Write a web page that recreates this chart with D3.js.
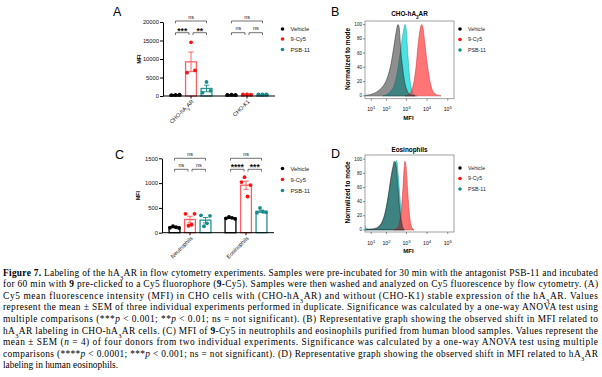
<!DOCTYPE html>
<html><head><meta charset="utf-8">
<script src="https://cdn.jsdelivr.net/npm/d3@7"></script>
<style>body{margin:0;background:#fff}svg{display:block}</style>
</head><body><svg id="c" width="602" height="377"></svg>
<script>
// ---------- data ----------
const series = ["Vehicle", "9-Cy5", "PSB-11"];

// Panel A (MFI, individual experiments)
const groupsA = ["CHO-hA_{3}AR", "CHO-K1"];
const vehicleA = [[250, 300, 350], [300, 350, 280]];
const cy5A = [[6300, 14500, 6900], [400, 450, 380]];
const psbA = [[900, 3800, 1400], [420, 400, 450]];
const ticksA = [0, 5000, 10000, 15000, 20000];

// Panel C (MFI, donors)
const groupsC = ["Neutrophils", "Eosinophils"];
const vehicleC = [[100, 130, 110, 95], [290, 320, 300, 280]];
const cy5C = [[380, 140, 160, 380], [1020, 1120, 730, 960]];
const psbC = [[350, 130, 190, 340], [400, 500, 420, 410]];
const ticksC = [0, 500, 1000, 1500];

// significance annotations: [group, fromSeries, toSeries, level, label]
const sigA = [[0, 0, 2, 0, "ns"], [0, 0, 1, 1, "***"], [0, 1, 2, 1, "**"],
              [1, 0, 2, 0, "ns"], [1, 0, 1, 1, "ns"], [1, 1, 2, 1, "ns"]];
const sigC = [[0, 0, 2, 0, "ns"], [0, 0, 1, 1, "ns"], [0, 1, 2, 1, "ns"],
              [1, 0, 2, 0, "ns"], [1, 0, 1, 1, "****"], [1, 1, 2, 1, "***"]];

// Histograms: [MFI, % of mode]
const histTicks = [10, 100, 1000, 10000, 100000];
const histYTicks = [0, 20, 40, 60, 80, 100];
const bVehicle = [[0,0.5],[2.5,1],[9.5,2],[20,4],[43,9],[83,18],[119,28],[171,45],[242,70],[305,88],[383,100],[430,97],[539,60],[676,35],[847,17],[1060,8],[1328,3],[1858,1],[2599,0]];
const bPSB = [[64,0],[106,2],[171,7],[272,18],[383,38],[481,58],[603,78],[757,95],[847,100],[948,96],[1187,55],[1485,22],[1858,7],[2323,2],[3248,0]];
const bCy5 = [[847,0],[1187,1],[1485,3],[1858,9],[2323,20],[2905,40],[3634,70],[4539,92],[5487,100],[6341,95],[7923,72],[9899,48],[12366,28],[15450,14],[19310,6],[24120,3],[33690,1],[47060,0]];
const dVehicle = [[0,0],[7.4,1],[20,2],[32,4],[56,11],[83,24],[119,45],[171,75],[216,90],[250,97],[305,92],[383,60],[481,25],[603,6],[757,0]];
const dPSB = [[0,6],[1.2,2],[7.4,1],[20,1],[32,3],[56,10],[83,22],[106,37],[151,62],[216,86],[272,95],[330,98],[387,80],[481,45],[584,15],[676,4],[847,0]];
const dCy5 = [[242,0],[342,2],[430,8],[539,25],[676,60],[757,85],[847,97],[948,90],[1122,60],[1328,28],[1571,10],[1858,3],[2323,0]];

// ---------- style ----------
const SANS = "'Liberation Sans', Arial, sans-serif";
const SERIF = "'Liberation Serif', 'Times New Roman', serif";
const pointColor = ["#000000", "#ff1010", "#168c8c"];
const barColor = ["#000000", "#ff6161", "#2a9090"];
const histFill = {Vehicle: "#333333", "9-Cy5": "#ff3b3b", "PSB-11": "#10d8d8"};
const histOpacity = {Vehicle: 0.55, "9-Cy5": 0.7, "PSB-11": 0.75};
const histStroke = {Vehicle: "#222222", "9-Cy5": "#cc2a2a", "PSB-11": "#0a9a9a"};

const svg = d3.select("#c");

function rich(sel, str, small) {
  str.split(/(_\{[^}]*\}|\^\{[^}]*\})/).forEach(p => {
    if (!p) return;
    if (p.startsWith("_{")) sel.append("tspan").attr("baseline-shift", "sub").attr("font-size", small).text(p.slice(2, -1));
    else if (p.startsWith("^{")) sel.append("tspan").attr("baseline-shift", "super").attr("font-size", small).text(p.slice(2, -1));
    else sel.append("tspan").text(p);
  });
}

function letter(t, x, y) {
  svg.append("text").attr("x", x).attr("y", y).attr("font-family", SANS)
    .attr("font-size", 12.5).text(t);
}

function legend(x, ys, size, r) {
  series.forEach((s, i) => {
    svg.append("circle").attr("cx", x).attr("cy", ys[i]).attr("r", r).attr("fill", pointColor[i]);
    svg.append("text").attr("x", x + 8).attr("y", ys[i]).attr("dy", "0.35em")
      .attr("font-family", SANS).attr("font-size", size).attr("fill", "#222").text(s);
  });
}

// ---------- bar panels ----------
function barPanel(o) {
  const g = svg.append("g");
  const y = d3.scaleLinear().domain([0, o.ymax]).range([o.yBottom, o.yTop]);
  const x0 = d3.scalePoint().domain(o.groups).range([o.xLeft, o.xRight]).padding(0.5);
  const x1 = d3.scaleBand().domain(series).range([-23.25, 23.25]).paddingInner(0.3).paddingOuter(0.15);
  const bw = x1.bandwidth();
  const cx = (gi, si) => x0(o.groups[gi]) + x1(series[si]) + bw / 2;
  const offs = n => d3.range(n).map(i => (i - (n - 1) / 2) * (n > 3 ? 3 : 4));

  o.data.forEach((perGroup, si) => {
    perGroup.forEach((pts, gi) => {
      const m = d3.mean(pts);
      const sem = d3.deviation(pts) / Math.sqrt(pts.length);
      const xc = cx(gi, si);
      g.append("rect").attr("x", xc - bw / 2).attr("width", bw)
        .attr("y", y(m)).attr("height", Math.max(0.01, y(0) - y(m)))
        .attr("fill", "none").attr("stroke", barColor[si]).attr("stroke-width", 1.3);
      g.append("line").attr("x1", xc).attr("x2", xc).attr("y1", y(m - sem)).attr("y2", y(m + sem))
        .attr("stroke", barColor[si]).attr("stroke-width", 1);
      [m + sem, m - sem].forEach(v => g.append("line").attr("x1", xc - 2.6).attr("x2", xc + 2.6)
        .attr("y1", y(v)).attr("y2", y(v)).attr("stroke", barColor[si]).attr("stroke-width", 1));
      const of = offs(pts.length);
      pts.forEach((v, k) => g.append("circle").attr("cx", xc + of[k]).attr("cy", y(v))
        .attr("r", 1.9).attr("fill", pointColor[si]));
    });
  });

  // y axis
  const ya = g.append("g").attr("transform", `translate(${o.xLeft},0)`)
    .call(d3.axisLeft(y).tickValues(o.ticks).tickSize(3).tickSizeOuter(0).tickPadding(1).tickFormat(d3.format("d")));
  ya.selectAll("text").attr("font-family", SANS).attr("font-size", 5.8).attr("fill", "#111");
  ya.selectAll("line,path").attr("stroke", "#000").attr("stroke-width", 1);
  // x axis
  g.append("line").attr("x1", o.xLeft).attr("x2", o.xRight).attr("y1", o.yBottom).attr("y2", o.yBottom)
    .attr("stroke", "#000").attr("stroke-width", 1);
  o.groups.forEach(gr => {
    g.append("line").attr("x1", x0(gr)).attr("x2", x0(gr)).attr("y1", o.yBottom).attr("y2", o.yBottom + 2.5)
      .attr("stroke", "#000").attr("stroke-width", 1);
    const t = g.append("text").attr("transform", `translate(${x0(gr) + 3},${o.yBottom + 6}) rotate(-45)`)
      .attr("text-anchor", "end").attr("font-family", SANS).attr("font-size", 5.6).attr("fill", "#111");
    rich(t, gr, 4);
  });
  g.append("text").attr("transform", `translate(${o.xLeft - 22},${(o.yTop + o.yBottom) / 2 - 0}) rotate(-90)`)
    .attr("text-anchor", "middle").attr("font-family", SANS).attr("font-weight", "bold")
    .attr("font-size", 5.2).text("MFI");

  // significance
  o.sig.forEach(([gi, a, b, lev, lab]) => {
    const yy = o.sigY[lev];
    let xa = cx(gi, a), xb = cx(gi, b);
    if (lev === 1) { if (a === 1) xa += 2; if (b === 1) xb -= 2; }
    g.append("path").attr("d", `M${xa},${yy + 2.3}V${yy}H${xb}V${yy + 2.3}`)
      .attr("fill", "none").attr("stroke", "#333").attr("stroke-width", 0.7);
    const star = lab.includes("*");
    g.append("text").attr("x", (xa + xb) / 2).attr("y", star ? yy + 0.8 : yy - 2.3)
      .attr("text-anchor", "middle").attr("font-family", SANS)
      .attr("font-size", star ? 8.5 : 5.4).attr("font-weight", star ? "bold" : "normal")
      .attr("fill", "#111").text(lab);
  });
}

barPanel({groups: groupsA, data: [vehicleA, cy5A, psbA], ticks: ticksA, ymax: 20000,
  yTop: 22, yBottom: 96, xLeft: 163, xRight: 275, sig: sigA, sigY: [21, 32.7]});
barPanel({groups: groupsC, data: [vehicleC, cy5C, psbC], ticks: ticksC, ymax: 1500,
  yTop: 158.3, yBottom: 232.7, xLeft: 162, xRight: 274, sig: sigC, sigY: [158.3, 169.3]});

// ---------- histogram panels ----------
function histPanel(o) {
  const [l, t, r, b] = o.box;
  const g = svg.append("g");
  const x = d3.scaleSymlog().constant(10).domain([0, 2e5]).range([l, r]);
  const y = d3.scaleLinear().domain(o.yDomain).range([b, t]);
  const id = "clip" + Math.round(t);
  g.append("clipPath").attr("id", id).append("rect").attr("x", l).attr("y", t).attr("width", r - l).attr("height", b - t);
  const area = d3.area().x(d => x(d[0])).y0(y(0)).y1(d => y(d[1])).curve(d3.curveMonotoneX);
  const cg = g.append("g").attr("clip-path", `url(#${id})`);
  o.curves.forEach(([name, data]) => {
    cg.append("path").datum(data).attr("d", area).attr("fill", histFill[name])
      .attr("fill-opacity", histOpacity[name]).attr("stroke", histStroke[name]).attr("stroke-width", 0.5);
  });
  g.append("rect").attr("x", l).attr("y", t).attr("width", r - l).attr("height", b - t)
    .attr("fill", "none").attr("stroke", "#8a8a8a").attr("stroke-width", 0.8);
  histYTicks.forEach(v => {
    g.append("line").attr("x1", l - 2).attr("x2", l).attr("y1", y(v)).attr("y2", y(v)).attr("stroke", "#444").attr("stroke-width", 0.6);
    g.append("text").attr("x", l - 3).attr("y", y(v)).attr("dy", "0.35em").attr("text-anchor", "end")
      .attr("font-family", SANS).attr("font-size", 4.6).attr("fill", "#111").text(v);
  });
  histTicks.forEach(v => {
    g.append("line").attr("x1", x(v)).attr("x2", x(v)).attr("y1", b).attr("y2", b + 2).attr("stroke", "#444").attr("stroke-width", 0.6);
    const tx = g.append("text").attr("x", x(v)).attr("y", b + 12.5).attr("text-anchor", "middle")
      .attr("font-family", SANS).attr("font-size", 5.2).attr("fill", "#111");
    rich(tx, "10^{" + Math.round(Math.log10(v)) + "}", 4.2);
  });
  g.append("text").attr("x", (l + r) / 2 - 1).attr("y", b + 20.8).attr("text-anchor", "middle")
    .attr("font-family", SANS).attr("font-weight", "bold").attr("font-size", 6).text("MFI");
  const tt = g.append("text").attr("x", (l + r) / 2).attr("y", o.titleY).attr("text-anchor", "middle")
    .attr("font-family", SANS).attr("font-weight", "bold").attr("font-size", 6.4);
  rich(tt, o.title, 4.6);
  g.append("text").attr("transform", `translate(350,${(t + b) / 2 - 1}) rotate(-90)`)
    .attr("text-anchor", "middle").attr("font-family", SANS).attr("font-weight", "bold")
    .attr("font-size", 6.5).text("Normalized to mode");
}

histPanel({title: "CHO-hA_{3}AR", box: [365, 21, 454, 98.7], yDomain: [-4, 105], titleY: 16,
  curves: [["PSB-11", bPSB], ["9-Cy5", bCy5], ["Vehicle", bVehicle]]});
histPanel({title: "Eosinophils", box: [365, 155, 454, 232], yDomain: [-3, 106], titleY: 151.5,
  curves: [["PSB-11", dPSB], ["9-Cy5", dCy5], ["Vehicle", dVehicle]]});

// ---------- letters & legends ----------
letter("A", 113, 16); letter("B", 331, 16); letter("C", 115, 158.5); letter("D", 331, 158.3);
legend(282.5, [29, 39, 49.5], 5.8, 1.8);
legend(282.5, [168.5, 179.5, 190.5], 5.8, 1.8);
legend(460, [29, 39.5, 50], 5.3, 1.8);
legend(460, [168, 178.5, 189], 5.3, 1.8);

// ---------- caption ----------
const caption = [
  "<b>Figure 7.</b> Labeling of the hA<sub>3</sub>AR in flow cytometry experiments. Samples were pre-incubated for 30 min with the antagonist PSB-11 and incubated",
  "for 60 min with <b>9</b> pre-clicked to a Cy5 fluorophore (<b>9</b>-Cy5). Samples were then washed and analyzed on Cy5 fluorescence by flow cytometry. (A)",
  "Cy5 mean fluorescence intensity (MFI) in CHO cells with (CHO-hA<sub>3</sub>AR) and without (CHO-K1) stable expression of the hA<sub>3</sub>AR. Values",
  "represent the mean ± SEM of three individual experiments performed in duplicate. Significance was calculated by a one-way ANOVA test using",
  "multiple comparisons (***<i>p</i> &lt; 0.001; **<i>p</i> &lt; 0.01; ns = not significant). (B) Representative graph showing the observed shift in MFI related to",
  "hA<sub>3</sub>AR labeling in CHO-hA<sub>3</sub>AR cells. (C) MFI of <b>9</b>-Cy5 in neutrophils and eosinophils purified from human blood samples. Values represent the",
  "mean ± SEM (<i>n</i> = 4) of four donors from two individual experiments. Significance was calculated by a one-way ANOVA test using multiple",
  "comparisons (****<i>p</i> &lt; 0.0001; ***<i>p</i> &lt; 0.001; ns = not significant). (D) Representative graph showing the observed shift in MFI related to hA<sub>3</sub>AR",
  "labeling in human eosinophils."
];
caption.forEach((line, i) => {
  const t = svg.append("text").attr("x", 3).attr("y", 275.5 + i * 11.6)
    .attr("font-family", SERIF).attr("font-size", 9.4).attr("fill", "#000");
  if (i < caption.length - 1) t.attr("textLength", 595).attr("lengthAdjust", "spacing");
  line.split(/(<b>.*?<\/b>|<i>.*?<\/i>|<sub>.*?<\/sub>)/).forEach(p => {
    if (!p) return;
    const txt = p.replace(/<\/?(b|i|sub)>/g, "").replace(/&lt;/g, "<");
    const s = t.append("tspan").text(txt);
    if (p.startsWith("<b>")) s.attr("font-weight", "bold");
    else if (p.startsWith("<i>")) s.attr("font-style", "italic");
    else if (p.startsWith("<sub>")) s.attr("baseline-shift", "sub").attr("font-size", 6.5);
  });
});
</script></body></html>
